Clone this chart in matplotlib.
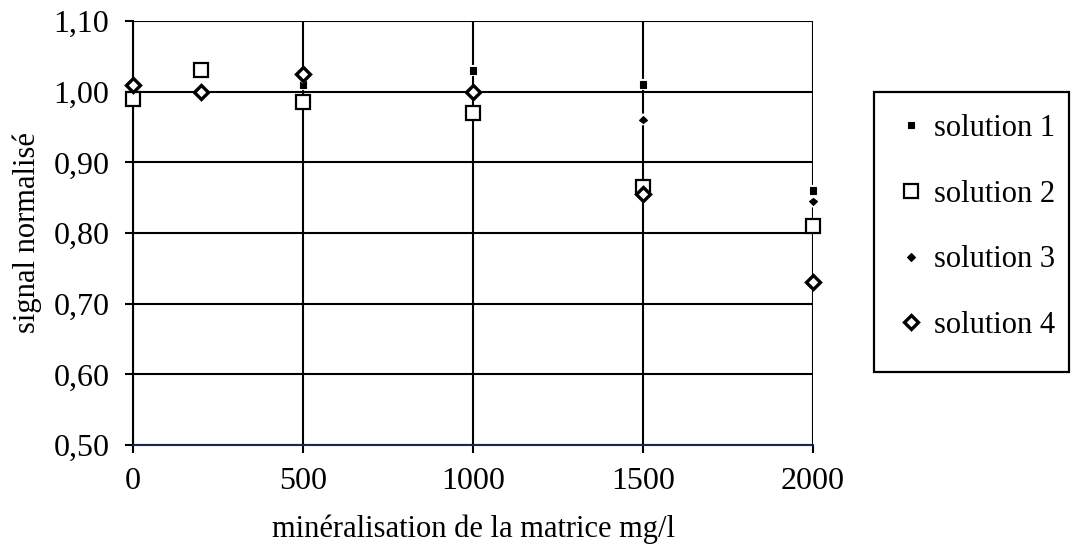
import matplotlib
matplotlib.use("Agg")
import matplotlib.pyplot as plt
from matplotlib.lines import Line2D
from matplotlib.patches import Rectangle
import matplotlib.patheffects as pe

plt.rcParams['font.family'] = ['Liberation Serif', 'DejaVu Serif']

# Matrix mineralisation (mg/l) and normalised signal per solution
mineralisation = [0, 200, 500, 1000, 1500, 2000]
solution_1 = [1.01, 1.00, 1.01, 1.03, 1.01, 0.86]
solution_2 = [0.99, 1.03, 0.985, 0.97, 0.865, 0.81]
solution_3 = [1.01, 1.00, 1.02, 1.00, 0.96, 0.845]
solution_4 = [1.01, 1.00, 1.025, 1.00, 0.855, 0.73]

y_ticks = [0.50, 0.60, 0.70, 0.80, 0.90, 1.00, 1.10]
y_tick_labels = ["0,50", "0,60", "0,70", "0,80", "0,90", "1,00", "1,10"]
x_ticks = [0, 500, 1000, 1500, 2000]
x_tick_labels = ["0", "500", "1000", "1500", "2000"]
labels = ["solution 1", "solution 2", "solution 3", "solution 4"]

W, H = 1071, 549
fig = plt.figure(figsize=(W / 100, H / 100), dpi=100)
ax = fig.add_axes([133 / W, (H - 445) / H, (813 - 133) / W, (445 - 21) / H])

TICK_FS = 23
LABEL_FS = 22
LEG_FS = 22
halo = [pe.Stroke(linewidth=3, foreground='white'), pe.Normal()]

styles = [
    dict(marker='s', ms=5, mfc='black', mec='black', mew=0.8),
    dict(marker='s', ms=10.5, mfc='white', mec='black', mew=1.6),
    dict(marker='D', ms=3.6, mfc='black', mec='black', mew=0.8),
    dict(marker='D', ms=7.5, mfc='white', mec='black', mew=2.4),
]
series = [solution_1, solution_2, solution_3, solution_4]
for i, (vals, st) in enumerate(zip(series, styles)):
    ln, = ax.plot(mineralisation, vals, linestyle='none', zorder=5 + i,
                  clip_on=False, **st)
    if i in (0, 2):
        ln.set_path_effects(halo)

ax.set_xlim(0, 2000)
ax.set_ylim(0.50, 1.10)
ax.set_xticks(x_ticks)
ax.set_xticklabels(x_tick_labels, fontsize=TICK_FS)
ax.set_yticks(y_ticks)
ax.set_yticklabels(y_tick_labels, fontsize=TICK_FS)

ax.grid(True, color='black', linewidth=1.5)
ax.set_axisbelow(True)
for side in ('top', 'right'):
    ax.spines[side].set_visible(False)
ax.spines['left'].set_linewidth(1.5)
ax.spines['left'].set_color('black')
ax.spines['bottom'].set_linewidth(1.5)
ax.spines['bottom'].set_color('#1c2450')
ax.tick_params(axis='both', direction='out', length=6, width=1.5, color='black')
ax.tick_params(axis='y', pad=11)
ax.tick_params(axis='x', pad=10)

ax.set_ylabel("signal normalisé", fontsize=LABEL_FS, labelpad=8)
ax.set_xlabel("minéralisation de la matrice mg/l", fontsize=LABEL_FS, labelpad=13)

# Legend frame and entries
fig.patches.append(Rectangle((874 / W, (H - 372) / H), (1069 - 874) / W, (372 - 92) / H,
                             transform=fig.transFigure, fill=False,
                             edgecolor='black', linewidth=1.6))
handles = [Line2D([], [], linestyle='none', **st) for st in styles]
fig.legend(handles, labels, loc='upper left',
           bbox_to_anchor=(902 / W, (H - 114) / H),
           frameon=False, fontsize=LEG_FS, labelspacing=1.2,
           handlelength=0.6, handletextpad=0.45, borderpad=0, borderaxespad=0)

fig.savefig("out.png", dpi=100)
